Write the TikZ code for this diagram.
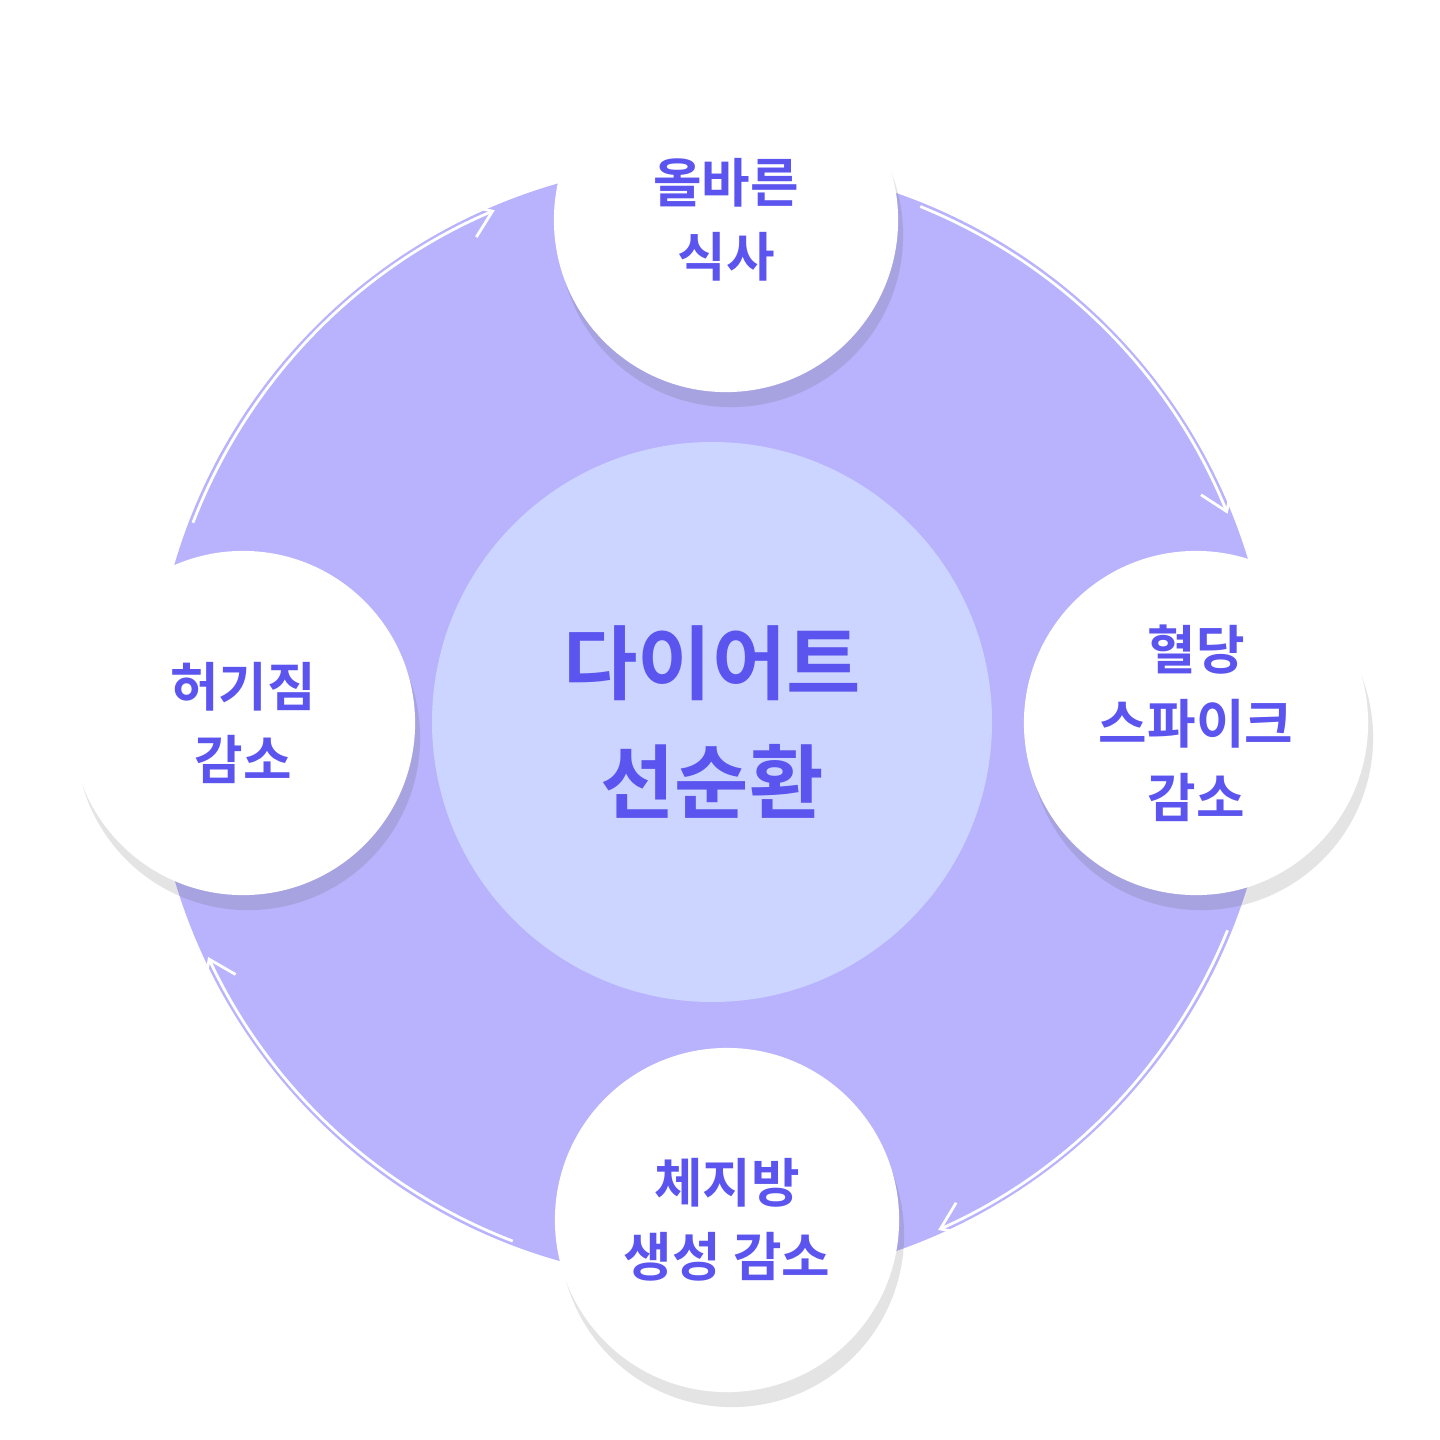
\documentclass[tikz,border=0pt]{standalone}
\usepackage{fontspec}
\newfontfamily\kr{Noto Sans CJK KR}[BoldFont={Noto Sans CJK KR Bold}]
\usetikzlibrary{shadows,arrows.meta}
\definecolor{ringc}{HTML}{B8B3FC}
\definecolor{corec}{HTML}{CCD5FF}
\definecolor{inkc}{HTML}{5B54EE}
\tikzset{
  stepdisc/.style={circle,fill=white,minimum size=3.44cm,inner sep=0pt,align=center,
    text=inkc,font=\kr\bfseries\fontsize{15}{21}\selectfont,
    drop shadow={shadow xshift=0.05cm,shadow yshift=-0.15cm,opacity=0.15,fill=black!70}},
  cyclearrow/.style={white,line width=0.8pt,-{Straight Barb[length=2.5mm,width=3.5mm]}}
}
\begin{document}
\begin{tikzpicture}[x=0.01cm,y=-0.01cm]
  \useasboundingbox (0,0) rectangle (1440,1440);
  \fill[ringc] (712,722) circle (560);
  \fill[corec] (712,722) circle (280);

  % arrows round the ring
  \draw[cyclearrow] (712,722) ++(-159:556) arc[start angle=-159,end angle=-113,radius=556];
  \draw[cyclearrow] (712,722) ++(-68:556) arc[start angle=-68,end angle=-22,radius=556];
  \draw[cyclearrow] (712,722) ++(22:556) arc[start angle=22,end angle=66,radius=556];
  \draw[cyclearrow] (712,722) ++(111:556) arc[start angle=111,end angle=155,radius=556];

  \node[text=inkc,align=center,font=\kr\bfseries\fontsize{23}{34}\selectfont] (core) at (712,722) {다이어트\\선순환};

  \node[stepdisc] (meal) at (726,220) {올바른\\식사};
  \node[stepdisc] (sugar) at (1196,723) {혈당\\스파이크\\감소};
  \node[stepdisc] (fat) at (727,1220) {체지방\\생성 감소};
  \node[stepdisc] (hunger) at (243,723) {허기짐\\감소};
\end{tikzpicture}
\end{document}
